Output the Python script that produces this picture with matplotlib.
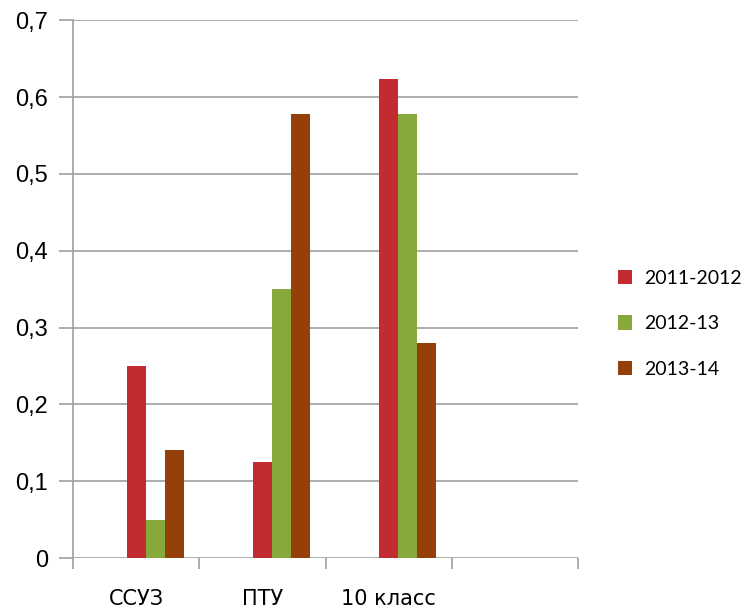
import matplotlib.pyplot as plt
import numpy as np

categories = ["ССУЗ", "ПТУ", "10 класс", ""]
series_names = ["2011-2012", "2012-13", "2013-14"]
vals_2011 = [0.25, 0.125, 0.623]
vals_2012 = [0.05, 0.35, 0.578]
vals_2013 = [0.14, 0.578, 0.28]
y_ticks = [0, 0.1, 0.2, 0.3, 0.4, 0.5, 0.6, 0.7]
y_labels = ["0", "0,1", "0,2", "0,3", "0,4", "0,5", "0,6", "0,7"]

colors = ["#C22B30", "#87A83A", "#954009"]
grid_col = "#A0A0A0"

fig = plt.figure(figsize=(7.5, 6.11), dpi=100)
ax = fig.add_axes([0.0973, 0.0867, 0.674, 0.88])

x = np.arange(3)
w = 0.15
for i, (vals, name) in enumerate(zip([vals_2011, vals_2012, vals_2013], series_names)):
    ax.bar(x + i * w, vals, width=w, color=colors[i], label=name, zorder=3)

ax.set_xlim(-0.5, 3.5)
ax.set_ylim(0, 0.7)
ax.set_yticks(y_ticks)
ax.set_yticklabels(y_labels, fontsize=17, family="Liberation Sans")
for y in y_ticks:
    ax.axhline(y, color=grid_col, lw=1.2, zorder=1)

# границы категорий как деления
ax.set_xticks(np.arange(-0.5, 4.0, 1.0))
ax.set_xticklabels([])
ax.set_xticks(np.arange(4), minor=True)
ax.set_xticklabels(categories, minor=True, fontsize=15, family="DejaVu Sans")
ax.tick_params(axis="x", which="major", length=8, color=grid_col, width=1.2)
ax.tick_params(axis="x", which="minor", length=0, pad=22)
ax.tick_params(axis="y", length=10, color=grid_col, width=1.2, pad=8)

for s in ["top", "right", "bottom"]:
    ax.spines[s].set_visible(False)
ax.spines["left"].set_color(grid_col)
ax.spines["left"].set_linewidth(1.2)

fig.legend(loc="center left", bbox_to_anchor=(0.8, 0.47), frameon=False,
           prop={"family": "Lato", "size": 14}, handlelength=0.75, handleheight=0.75,
           labelspacing=1.45, handletextpad=0.6)

fig.savefig("out.png", dpi=100)
